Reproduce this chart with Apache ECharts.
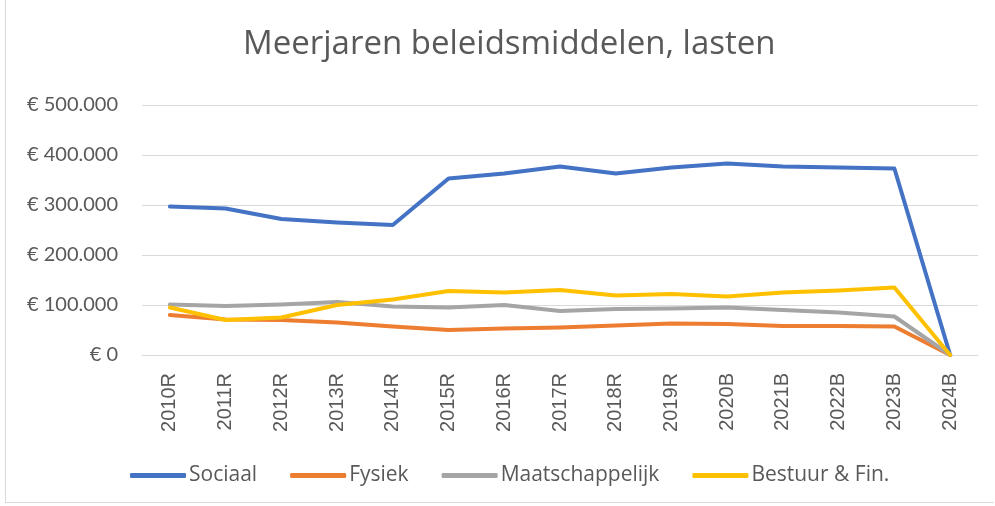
<!DOCTYPE html>
<html><head><meta charset="utf-8">
<script src="https://cdn.jsdelivr.net/npm/echarts@6/dist/echarts.min.js"></script>
<style>
html,body{margin:0;padding:0;background:#fff;}
#frame{position:absolute;left:5px;top:0;width:989px;height:503px;border-left:1px solid #d9d9d9;border-bottom:1px solid #d9d9d9;box-sizing:border-box;}
#c{position:absolute;left:0;top:0;width:995px;height:506px;}
</style></head><body>
<div id="frame"></div>
<div id="c"></div>
<script>
const categories = ['2010R','2011R','2012R','2013R','2014R','2015R','2016R','2017R','2018R','2019R','2020B','2021B','2022B','2023B','2024B'];
const sociaal = [297000,293000,272000,265000,260000,353000,363000,377000,363000,375000,383000,377000,375000,373000,0];
const fysiek = [80000,71000,70000,65000,57000,50000,53000,55000,59000,63000,62000,58000,58000,57000,0];
const maatschappelijk = [101000,98000,101000,106000,97000,95000,100000,88000,92000,93000,95000,90000,85000,77000,0];
const bestuur = [95000,70000,75000,100000,111000,128000,125000,130000,119000,122000,117000,125000,129000,135000,0];
const seriesNames = ['Sociaal','Fysiek','Maatschappelijk','Bestuur & Fin.'];
const colors = ['#4472C4','#ED7D31','#A5A5A5','#FFC000'];
const yTicks = [0,100000,200000,300000,400000,500000];

const titleFont = '"Open Sans", sans-serif';
const yFont = 'Lato, sans-serif';
const xFont = '"Liberation Sans", Arial, sans-serif';
const chart = echarts.init(document.getElementById('c'));
const mk = (name, data, i) => ({
  name, type:'line', data, symbol:'none', smooth:false,
  lineStyle:{width:4, color:colors[i], cap:'round', join:'round'},
  itemStyle:{color:colors[i]}
});
chart.setOption({
  animation:false,
  title:{text:'Meerjaren beleidsmiddelen, lasten', left:238, top:23,
    textStyle:{fontFamily:titleFont, fontSize:33, fontWeight:'normal', color:'#595959'}},
  grid:{left:142, right:17, top:105, bottom:151, containLabel:false},
  legend:{top:460, left:125, itemWidth:56, itemHeight:5, itemGap:33,
    icon:'roundRect',
    textStyle:{fontFamily:titleFont, fontSize:21, color:'#595959', padding:[0,0,0,-2]},
    data:seriesNames},
  xAxis:{type:'category', data:categories, boundaryGap:true,
    axisLine:{lineStyle:{color:'#d9d9d9', width:1}}, axisTick:{show:false},
    axisLabel:{rotate:90, interval:0, fontFamily:xFont, fontSize:20, color:'#595959', margin:18}},
  yAxis:{type:'value', min:0, max:500000, interval:100000,
    axisLine:{show:false}, axisTick:{show:false},
    splitLine:{lineStyle:{color:'#d9d9d9', width:1}},
    axisLabel:{fontFamily:yFont, fontSize:20, color:'#595959', margin:24,
      formatter:v => '€ ' + (v===0 ? '0' : v.toString().replace(/\B(?=(\d{3})+(?!\d))/g,'.'))}},
  series:[mk(seriesNames[0],sociaal,0), mk(seriesNames[1],fysiek,1), mk(seriesNames[2],maatschappelijk,2), mk(seriesNames[3],bestuur,3)]
});
</script>
</body></html>
